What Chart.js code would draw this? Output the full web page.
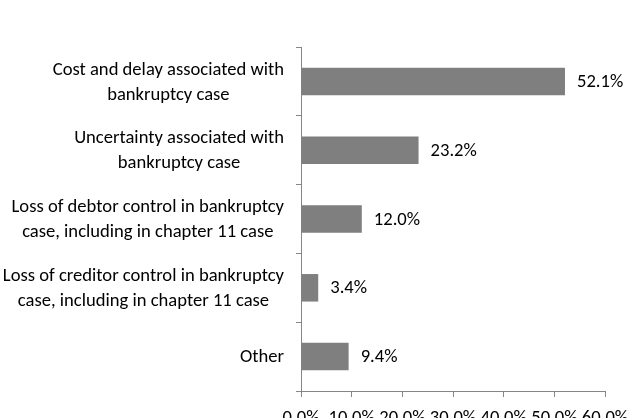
<!DOCTYPE html>
<html>
<head>
<meta charset="utf-8">
<script src="https://cdn.jsdelivr.net/npm/chart.js@4/dist/chart.umd.min.js"></script>
<style>
  html, body { margin: 0; padding: 0; background: #fff; overflow: hidden; }
  #wrap { width: 632px; height: 418px; position: relative; }
</style>
</head>
<body>
<div id="wrap"><canvas id="c" width="632" height="418"></canvas></div>
<script>
const categories = [
  ["Cost and delay associated with", "bankruptcy case"],
  ["Uncertainty associated with", "bankruptcy case"],
  ["Loss of debtor control in bankruptcy", "case, including in chapter 11 case"],
  ["Loss of creditor control in bankruptcy", "case, including in chapter 11 case"],
  ["Other"]
];
const values = [52.1, 23.2, 12.0, 3.4, 9.4];
const xTicks = [0, 10, 20, 30, 40, 50, 60];

const FONT = "Carlito, Lato, 'Open Sans', sans-serif";
const AXIS = '#868686';
const FS = 18.6;

const barLabels = {
  id: 'barLabels',
  afterDatasetsDraw(chart) {
    const ctx = chart.ctx;
    const meta = chart.getDatasetMeta(0);
    ctx.save();
    ctx.font = FS + 'px ' + FONT;
    ctx.fillStyle = '#000';
    ctx.textAlign = 'left';
    ctx.textBaseline = 'middle';
    meta.data.forEach((bar, i) => {
      ctx.fillText(values[i].toFixed(1) + '%', bar.x + 12, bar.y + 1);
    });
    ctx.restore();
  }
};

const catLabels = {
  id: 'catLabels',
  afterDraw(chart) {
    const ctx = chart.ctx;
    const y = chart.scales.y;
    ctx.save();
    ctx.font = FS + 'px ' + FONT;
    ctx.fillStyle = '#000';
    ctx.textAlign = 'center';
    ctx.textBaseline = 'middle';
    const right = y.right - 17;
    const lh = 25;
    categories.forEach((lines, i) => {
      const cy = y.getPixelForValue(i) + 1;
      const w = Math.max(...lines.map(l => ctx.measureText(l).width));
      const cx = right - w / 2;
      const y0 = cy - (lines.length - 1) * lh / 2;
      lines.forEach((l, j) => ctx.fillText(l, cx, y0 + j * lh));
    });
    ctx.restore();
  }
};

new Chart(document.getElementById('c'), {
  type: 'bar',
  data: {
    labels: categories,
    datasets: [{
      data: values,
      backgroundColor: '#7f7f7f',
      borderWidth: 0,
      barPercentage: 0.8,
      categoryPercentage: 0.5
    }]
  },
  options: {
    indexAxis: 'y',
    responsive: false,
    animation: false,
    layout: { padding: { top: 47, right: 27, left: 0, bottom: 0 } },
    plugins: { legend: { display: false }, tooltip: { enabled: false } },
    scales: {
      y: {
        offset: true,
        grid: { display: true, drawOnChartArea: false, offset: true, tickLength: 5, color: AXIS, lineWidth: 1 },
        border: { display: true, color: AXIS, width: 1 },
        ticks: { display: false },
        afterFit(scale) { scale.width = 301; }
      },
      x: {
        min: 0, max: 60,
        afterBuildTicks(scale) { scale.ticks = xTicks.map(v => ({ value: v })); },
        grid: { display: true, drawOnChartArea: false, tickLength: 6, color: AXIS, lineWidth: 1 },
        border: { display: true, color: AXIS, width: 1 },
        ticks: {
          autoSkip: false, maxRotation: 0, minRotation: 0, padding: 10,
          color: '#000',
          font: { family: FONT, size: FS },
          callback: v => Number(v).toFixed(1) + '%'
        },
        afterFit(scale) { scale.height = 27; scale.paddingLeft = 0; scale.paddingRight = 0; }
      }
    }
  },
  plugins: [barLabels, catLabels]
});
</script>
</body>
</html>
